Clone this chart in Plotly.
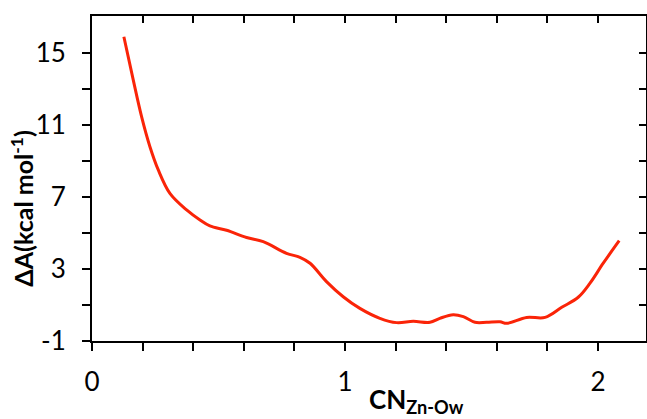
import plotly.graph_objects as go

cn = [0.126, 0.163, 0.196, 0.229, 0.262, 0.308, 0.374, 0.427, 0.466, 0.532,
      0.611, 0.677, 0.769, 0.822, 0.862, 0.927, 0.993, 1.059, 1.138, 1.204,
      1.27, 1.336, 1.375, 1.428, 1.468, 1.514, 1.56, 1.613, 1.639, 1.718,
      1.791, 1.857, 1.922, 1.968, 2.021, 2.084]
dA = [15.9, 13.5, 11.46, 9.79, 8.5, 7.2, 6.28, 5.72, 5.39, 5.15,
      4.75, 4.52, 3.87, 3.65, 3.32, 2.3, 1.46, 0.81, 0.26, 0.02,
      0.09, 0.04, 0.26, 0.46, 0.35, 0.04, 0.04, 0.07, -0.02, 0.31,
      0.31, 0.87, 1.43, 2.2, 3.32, 4.57]

x_range = [0, 2.19]
y_range = [-1, 17.05]
y_tickvals = [-1, 1, 3, 5, 7, 9, 11, 13, 15]
y_ticktext = ["-1", " ", "3", " ", "7", " ", "11", " ", "15"]
x_tickvals = [0, 0.2, 0.4, 0.6, 0.8, 1.0, 1.2, 1.4, 1.6, 1.8, 2.0]
x_ticktext = ["0", " ", " ", " ", " ", "1", " ", " ", " ", " ", "2"]

FONT = "Lato, Open Sans, sans-serif"

fig = go.Figure()
fig.add_trace(go.Scatter(x=cn, y=dA, mode="lines",
                         line=dict(color="#fa2408", width=3, shape="spline", smoothing=1.0),
                         showlegend=False, hoverinfo="skip"))
fig.add_trace(go.Scatter(x=[cn[0]], y=[dA[0]], xaxis="x2", yaxis="y2", mode="markers",
                         marker=dict(opacity=0), showlegend=False, hoverinfo="skip"))

axis_common = dict(showgrid=False, zeroline=False, showline=True, linecolor="black",
                   linewidth=2, tickcolor="black", tickwidth=2, automargin=False)

fig.update_layout(
    width=647, height=419,
    margin=dict(l=92, r=1, t=16, b=78, autoexpand=False),
    paper_bgcolor="white", plot_bgcolor="white",
    font=dict(family=FONT, color="black"),
    xaxis=dict(range=x_range, tickmode="array", tickvals=x_tickvals, ticktext=x_ticktext,
               ticks="outside", ticklen=8, tickfont=dict(size=26, family=FONT),
               ticklabelstandoff=9, **axis_common),
    yaxis=dict(range=y_range, tickmode="array", tickvals=y_tickvals, ticktext=y_ticktext,
               ticks="outside", ticklen=8, tickfont=dict(size=26, family=FONT),
               ticklabelstandoff=11, **axis_common),
    xaxis2=dict(range=x_range, overlaying="x", side="top", tickmode="array",
                tickvals=x_tickvals, showticklabels=False, ticks="inside", ticklen=7,
                **axis_common),
    yaxis2=dict(range=y_range, overlaying="y", side="right", tickmode="array",
                tickvals=y_tickvals, showticklabels=False, ticks="inside", ticklen=7,
                **axis_common),
    annotations=[
        dict(text="<b>ΔA(kcal mol<sup>-1</sup>)</b>", xref="paper", yref="paper",
             x=-0.127, y=0.406, textangle=-90, showarrow=False,
             font=dict(size=25, family=FONT), xanchor="center", yanchor="middle"),
        dict(text="<b>CN<sub>Zn-Ow</sub></b>", xref="paper", yref="paper",
             x=0.4964, y=-0.182, showarrow=False,
             font=dict(size=26, family=FONT), xanchor="left", yanchor="middle"),
    ],
)

fig.write_html("out.html", config={"displayModeBar": False},
               post_script="document.body.style.margin='0';document.documentElement.style.overflow='hidden';")
